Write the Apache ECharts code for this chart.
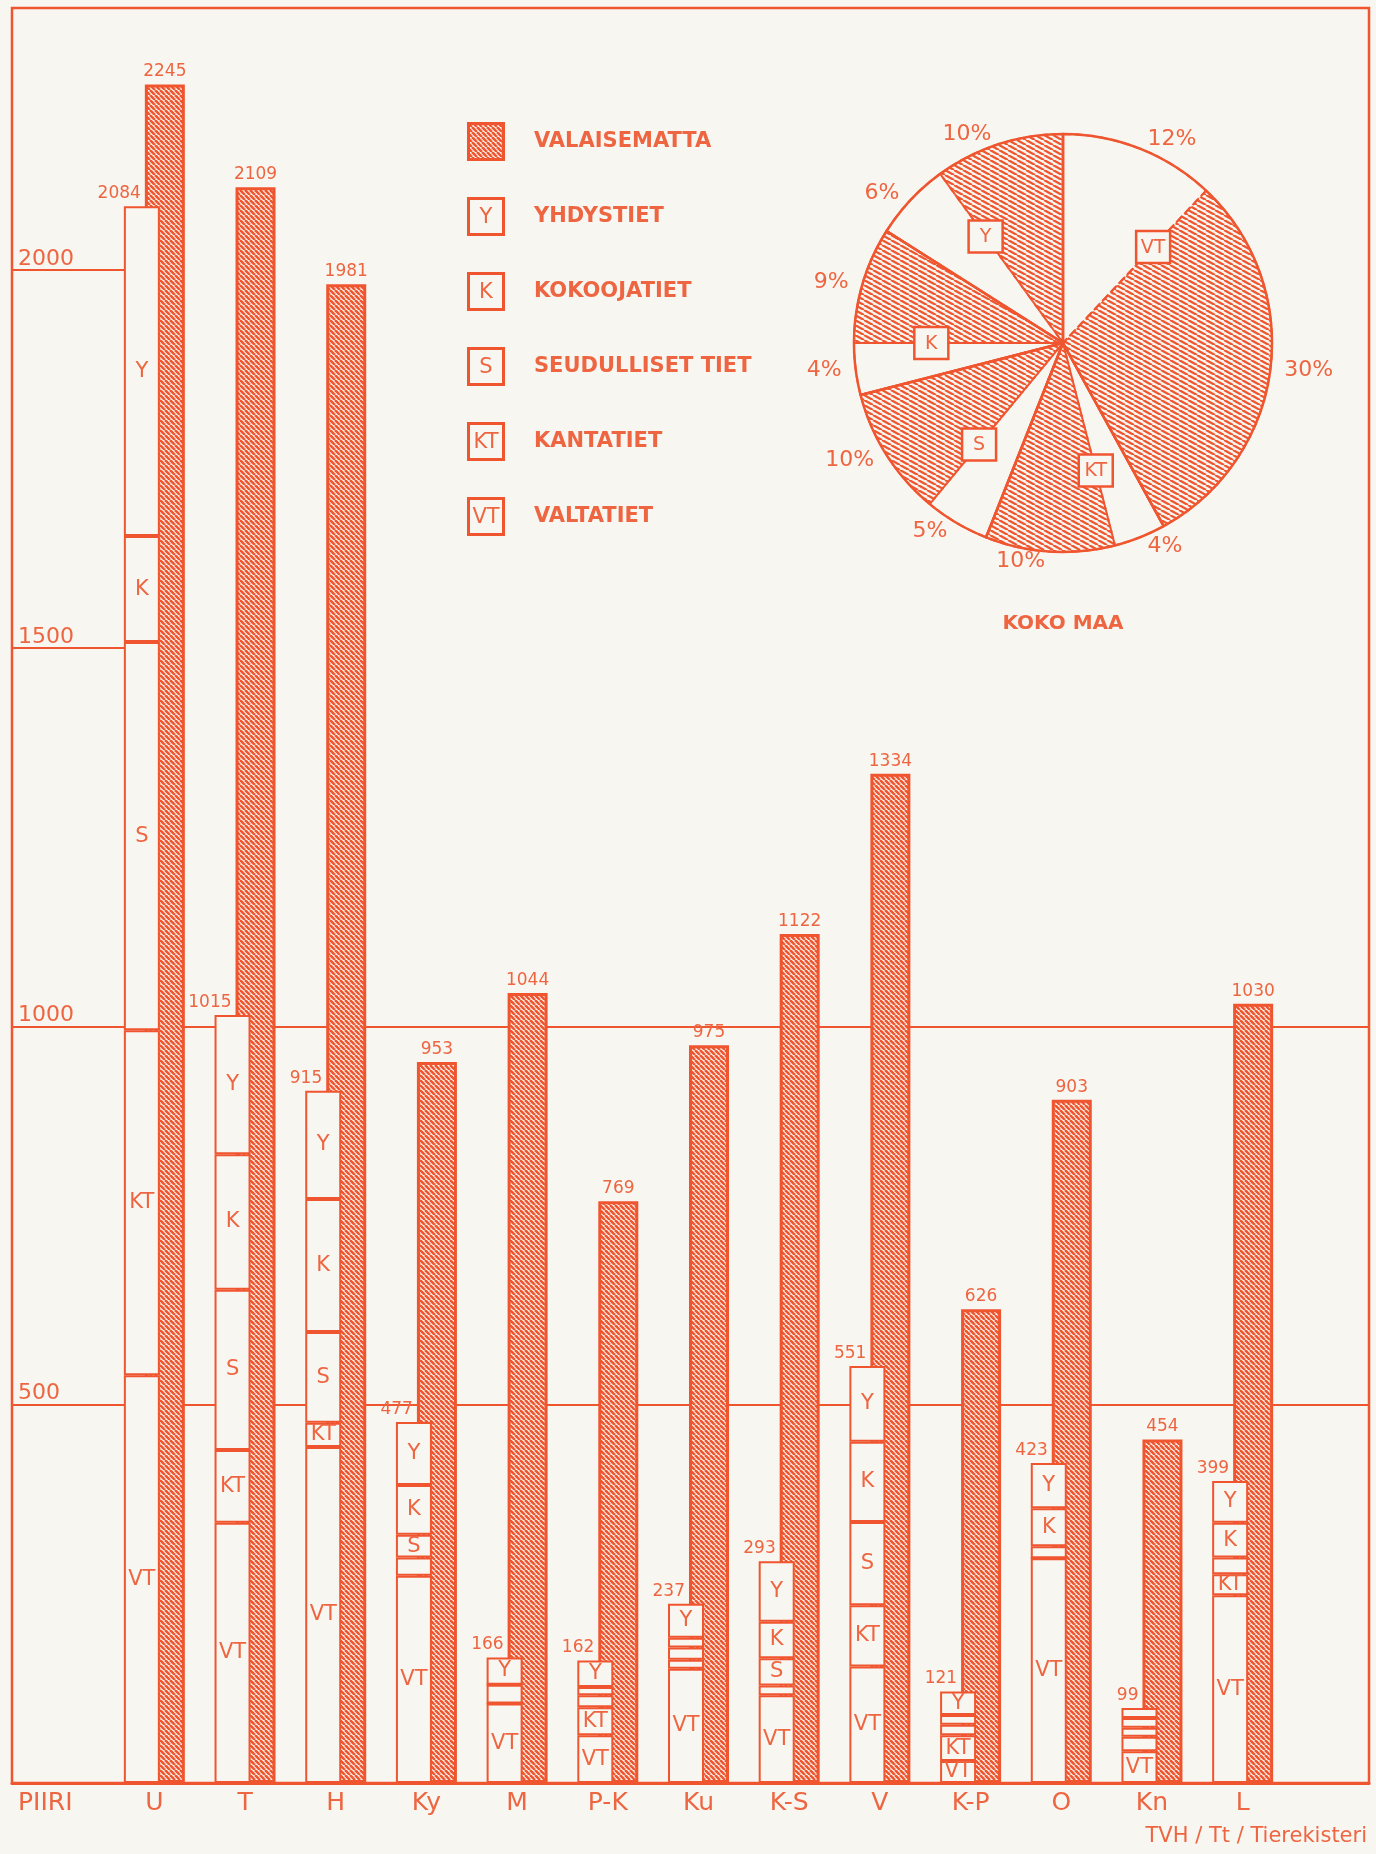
<!DOCTYPE html>
<html>
<head>
<meta charset="utf-8">
<title>Valaistut ja valaisemattomat tiet piireittäin</title>
<script src="https://cdn.jsdelivr.net/npm/echarts@6.0.0/dist/echarts.min.js"></script>
<style>
  html, body { margin: 0; padding: 0; background: #f8f6f0; }
  #chart { width: 1376px; height: 1854px; }
</style>
</head>
<body>
<div id="chart"></div>
<script>
// piirit
const piirit = ['U', 'T', 'H', 'Ky', 'M', 'P-K', 'Ku', 'K-S', 'V', 'K-P', 'O', 'Kn', 'L'];

// valaisematta (vinoviivoitettu pylväs)
const valaisematta = [2245, 2109, 1981, 953, 1044, 769, 975, 1122, 1334, 626, 903, 454, 1030];

// valaistut tiet tieluokittain, alhaalta ylös
const valtatiet   = [539, 344, 444, 274, 105, 63, 151, 116, 154, 29, 297, 42, 248];
const kantatiet   = [456, 96, 32, 24, 0, 37, 12, 13, 81, 34, 0, 19, 28];
const seudulliset = [513, 212, 120, 30, 25, 16, 16, 36, 110, 14, 16, 12, 22];
const kokoojatiet = [140, 179, 176, 66, 0, 11, 13, 48, 106, 13, 50, 13, 46];
const yhdystiet   = [436, 184, 143, 83, 36, 35, 45, 80, 100, 31, 60, 13, 55];
const valaistuYht = [2084, 1015, 915, 477, 166, 162, 237, 293, 551, 121, 423, 99, 399];

// y-akselin jaot
const yTicks = [500, 1000, 1500, 2000];
const pitkatViivat = [500, 1000];
const lyhyetViivat = [1500, 2000];

// koko maa, % myötäpäivään klo 12:sta
const pieLuokat = ['VT', 'KT', 'S', 'K', 'Y'];
const pieValaistu = [12, 4, 5, 4, 6];
const pieValaisematta = [30, 10, 10, 9, 10];

const ORANGE = '#ef5630';
const TEXT = '#ee6541';
const PAPER = '#f8f6f0';
const FONT = 'DejaVu Sans';

// layout: kehys (grid 0) ja pylväät (grid 1), sama pystyasteikko
const Y_MAX = 2346;
const X_MIN = -1.566, X_MAX = 13.396;   // kehyksen vaaka-asteikko piirien yksikköinä
const PIE_C = [1063, 343], PIE_R = 209;

function hatch(w, h, lw) {
    let c = document.createElement('canvas');
    c.width = w; c.height = h;
    let g = c.getContext('2d');
    g.fillStyle = PAPER;
    g.fillRect(0, 0, w, h);
    g.strokeStyle = ORANGE;
    g.lineWidth = lw;
    for (let k = -1; k <= 1; k++) {
        g.beginPath();
        g.moveTo(k * w, 0);
        g.lineTo(k * w + w, h);
        g.stroke();
    }
    return c;
}

function boxIcon(txt) {
    let c = document.createElement('canvas');
    c.width = 38; c.height = 39;
    let g = c.getContext('2d');
    g.fillStyle = txt ? PAPER : g.createPattern(hatch(5, 5, 2.6), 'repeat');
    g.fillRect(0, 0, 38, 39);
    g.strokeStyle = ORANGE;
    g.lineWidth = 3;
    g.strokeRect(1.5, 1.5, 35, 36);
    if (txt) {
        g.fillStyle = TEXT;
        g.font = '21px "' + FONT + '"';
        g.textAlign = 'center';
        g.textBaseline = 'middle';
        g.fillText(txt, 19, 21);
    }
    return 'image://' + c.toDataURL();
}

let barHatch = hatch(5, 5, 2.6);
let pieHatch = hatch(9, 5, 2.3);

let litSeries = [
    ['VALTATIET', 'VT', valtatiet],
    ['KANTATIET', 'KT', kantatiet],
    ['SEUDULLISET TIET', 'S', seudulliset],
    ['KOKOOJATIET', 'K', kokoojatiet],
    ['YHDYSTIET', 'Y', yhdystiet]
].map(function (s) {
    return {
        name: s[0],
        type: 'bar',
        xAxisIndex: 1, yAxisIndex: 1,
        stack: 'valaistu',
        z: 3,
        barWidth: 36,
        barGap: '-41.7%',
        data: s[2],
        itemStyle: { color: PAPER, borderColor: ORANGE, borderWidth: 2 },
        label: {
            show: true, position: 'inside', color: TEXT, fontSize: 21, fontFamily: FONT,
            formatter: function (p) { return p.value >= 26 ? s[1] : ''; }
        },
        emphasis: { disabled: true }
    };
});

// yhteissumma valaistun pylvään päälle
litSeries.push({
    name: 'valaistu yhteensä',
    type: 'bar',
    xAxisIndex: 1, yAxisIndex: 1,
    stack: 'valaistu',
    z: 3,
    barWidth: 36,
    barGap: '-41.7%',
    data: valaistuYht.map(function () { return 0; }),
    itemStyle: { color: 'rgba(0,0,0,0)', borderWidth: 0 },
    label: {
        show: true, position: 'top', align: 'right', offset: [-1, 0], distance: 4,
        color: TEXT, fontSize: 17, fontFamily: FONT,
        formatter: function (p) { return valaistuYht[p.dataIndex]; }
    },
    emphasis: { disabled: true }
});

let unlitSeries = {
    name: 'VALAISEMATTA',
    type: 'bar',
    xAxisIndex: 1, yAxisIndex: 1,
    z: 2,
    barWidth: 40,
    barGap: '-41.7%',
    data: valaisematta,
    itemStyle: { color: { image: barHatch, repeat: 'repeat' }, borderColor: ORANGE, borderWidth: 3 },
    label: { show: true, position: 'top', distance: 4, color: TEXT, fontSize: 17, fontFamily: FONT },
    emphasis: { disabled: true }
};

// vaakaviivat kehyksen sisällä
let gridLines = pitkatViivat.map(function (v) { return { yAxis: v }; })
    .concat(lyhyetViivat.map(function (v) { return [{ coord: [X_MIN, v] }, { coord: [0, v] }]; }));

let frameSeries = {
    name: 'kehys',
    type: 'line',
    xAxisIndex: 0, yAxisIndex: 0,
    data: [[0, 0]],
    showSymbol: false,
    silent: true,
    lineStyle: { opacity: 0 },
    z: 1,
    markLine: {
        silent: true, symbol: 'none', z: 1,
        label: { show: false },
        lineStyle: { color: ORANGE, width: 2.2, type: 'solid' },
        emphasis: { disabled: true },
        data: gridLines
    }
};

let pieData = [], pieCat = [];
pieLuokat.forEach(function (l, k) {
    pieData.push({ name: l + ' valaistu', value: pieValaistu[k], itemStyle: { color: PAPER } });
    pieData.push({ name: l + ' valaisematta', value: pieValaisematta[k], itemStyle: { color: { image: pieHatch, repeat: 'repeat' } } });
    pieCat.push({ name: l, value: pieValaistu[k] + pieValaisematta[k] });
});

let pieBase = {
    type: 'pie', center: PIE_C, radius: PIE_R, startAngle: 90, clockwise: true,
    avoidLabelOverlap: false, animation: false
};

// luokkaruudut valaistun ja valaisemattoman rajalle
let boxes = [];
let cum = 0;
let total = pieValaistu.concat(pieValaisematta).reduce(function (a, b) { return a + b; }, 0);
pieLuokat.forEach(function (l, k) {
    let a = (cum + pieValaistu[k]) / total * 2 * Math.PI;
    cum += pieValaistu[k] + pieValaisematta[k];
    let bx = PIE_C[0] + 0.63 * PIE_R * Math.sin(a);
    let by = PIE_C[1] - 0.63 * PIE_R * Math.cos(a);
    boxes.push({
        type: 'rect', z: 100,
        shape: { x: bx - 17, y: by - 16, width: 34, height: 32 },
        style: { fill: PAPER, stroke: ORANGE, lineWidth: 2.5 }
    });
    boxes.push({
        type: 'text', z: 101, x: bx, y: by + 1,
        style: { text: l, align: 'center', verticalAlign: 'middle', fill: TEXT, fontSize: 19, fontFamily: FONT }
    });
});

let chart = echarts.init(document.getElementById('chart'));
chart.setOption({
    backgroundColor: PAPER,
    animation: false,
    textStyle: { fontFamily: FONT },
    grid: [
        { left: 12, right: 7, top: 8, bottom: 71,
          show: true, borderColor: ORANGE, borderWidth: 2.5, backgroundColor: 'rgba(0,0,0,0)' },
        { left: 109, right: 88, top: 8, bottom: 71 }
    ],
    legend: {
        orient: 'vertical', left: 462, top: 117,
        itemWidth: 38, itemHeight: 39, itemGap: 36,
        selectedMode: false,
        textStyle: { color: TEXT, fontSize: 21, fontWeight: 'bold', fontFamily: FONT, padding: [0, 0, 0, 24] },
        data: [
            { name: 'VALAISEMATTA', icon: boxIcon('') },
            { name: 'YHDYSTIET', icon: boxIcon('Y') },
            { name: 'KOKOOJATIET', icon: boxIcon('K') },
            { name: 'SEUDULLISET TIET', icon: boxIcon('S') },
            { name: 'KANTATIET', icon: boxIcon('KT') },
            { name: 'VALTATIET', icon: boxIcon('VT') }
        ]
    },
    title: {
        text: 'TVH / Tt / Tierekisteri', right: 4, bottom: 2,
        textStyle: { color: TEXT, fontSize: 21, fontWeight: 'normal', fontFamily: FONT }
    },
    xAxis: [
        {
            gridIndex: 0, type: 'value', min: X_MIN, max: X_MAX,
            axisLine: { show: true, onZero: true, lineStyle: { color: ORANGE, width: 3 } },
            axisTick: { show: false },
            splitLine: { show: false },
            axisLabel: { show: false },
            name: 'PIIRI', nameLocation: 'start', nameGap: -6,
            nameTextStyle: { color: TEXT, fontSize: 25, fontFamily: FONT, align: 'left', verticalAlign: 'top', padding: [8, 0, 0, 0] }
        },
        {
            gridIndex: 1, type: 'category', data: piirit,
            axisLine: { show: false },
            axisTick: { show: false },
            axisLabel: { color: TEXT, fontSize: 25, margin: 8, fontFamily: FONT }
        }
    ],
    yAxis: [
        {
            gridIndex: 0, type: 'value', min: 0, max: Y_MAX,
            axisLine: { show: false },
            axisTick: { show: false },
            splitLine: { show: false },
            axisLabel: {
                customValues: yTicks,
                formatter: function (v) { return String(v); },
                inside: true, margin: 6, verticalAlign: 'bottom',
                color: TEXT, fontSize: 22, fontFamily: FONT
            }
        },
        {
            gridIndex: 1, type: 'value', min: 0, max: Y_MAX,
            axisLine: { show: false }, axisTick: { show: false },
            splitLine: { show: false }, axisLabel: { show: false }
        }
    ],
    graphic: boxes.concat([{
        type: 'text', x: PIE_C[0], y: 624,
        style: { text: 'KOKO MAA', align: 'center', verticalAlign: 'middle', fill: TEXT,
                 fontSize: 20, fontWeight: 'bold', fontFamily: FONT }
    }]),
    series: [frameSeries].concat(litSeries).concat([unlitSeries]).concat([
        Object.assign({}, pieBase, {
            name: 'koko maa',
            data: pieData,
            itemStyle: { borderWidth: 0 },
            label: { show: true, position: 'outside', formatter: '{c}%', color: TEXT, fontSize: 22,
                     fontFamily: FONT, distanceToLabelLine: 4 },
            labelLine: { show: false, length: 10, length2: 0 },
            emphasis: { disabled: true }
        }),
        Object.assign({}, pieBase, {
            name: 'rajat',
            silent: true,
            data: pieData.map(function (d) { return { name: d.name, value: d.value }; }),
            itemStyle: { color: 'rgba(0,0,0,0)', borderColor: ORANGE, borderWidth: 2, borderType: 'dashed' },
            label: { show: false }, labelLine: { show: false },
            emphasis: { disabled: true }
        }),
        Object.assign({}, pieBase, {
            name: 'luokat',
            silent: true,
            data: pieCat,
            itemStyle: { color: 'rgba(0,0,0,0)', borderColor: ORANGE, borderWidth: 2.5 },
            label: { show: false }, labelLine: { show: false },
            emphasis: { disabled: true }
        })
    ])
});
</script>
</body>
</html>
